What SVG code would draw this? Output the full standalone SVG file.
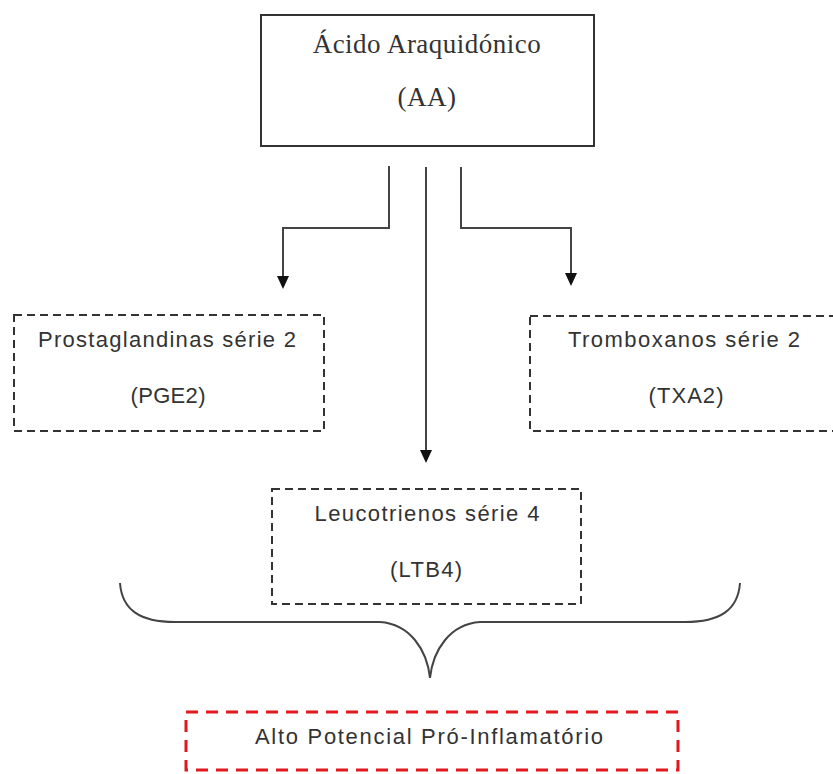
<svg xmlns="http://www.w3.org/2000/svg" width="833" height="774" viewBox="0 0 833 774">
<style>
.bg{fill:#fff}
.solid{fill:#fff;stroke:#333;stroke-width:2}
.dash{fill:#fff;stroke:#333;stroke-width:2;stroke-dasharray:8 5}
.red{fill:#fff;stroke:#e0191e;stroke-width:3;stroke-dasharray:12 8}
.serif{font-family:"Liberation Serif",serif;font-size:27px;fill:#333;text-anchor:middle;letter-spacing:0.5px}
.sans{font-family:"Liberation Sans",Arial,sans-serif;font-size:22px;fill:#333;text-anchor:middle}
.conn{fill:none;stroke:#444;stroke-width:2}
.head{fill:#111}
</style>
<rect class="bg" width="833" height="774"/>
<g id="connectors">
<path class="conn" d="M389,166 V228 H283 V276"/>
<path class="head" d="M277,276 L289,276 L283,289 Z"/>
<path class="conn" d="M426,167 V450"/>
<path class="head" d="M420,450 L432,450 L426,463 Z"/>
<path class="conn" d="M461,167 V228 H571 V273"/>
<path class="head" d="M565,273 L577,273 L571,286 Z"/>
<path class="conn" d="M120,583 C122,610 140,622 175,622 L380,622 C410,624 427,650 430,678 C433,650 450,624 480,622 L685,622 C720,622 738,610 740,583"/>
</g>
<g id="aa">
<rect class="solid" x="261" y="15" width="333" height="131"/>
<text class="serif" x="427" y="53">Ácido Araquidónico</text>
<text class="serif" x="427" y="106">(AA)</text>
</g>
<g id="pge2">
<rect class="dash" x="14" y="315" width="310" height="116"/>
<text class="sans" x="167" y="347" textLength="258" lengthAdjust="spacing">Prostaglandinas série 2</text>
<text class="sans" x="168" y="403" textLength="75" lengthAdjust="spacing">(PGE2)</text>
</g>
<g id="txa2">
<rect class="dash" x="530" y="316" width="312" height="115"/>
<text class="sans" x="684" y="347" textLength="232" lengthAdjust="spacing">Tromboxanos série 2</text>
<text class="sans" x="686" y="403" textLength="75" lengthAdjust="spacing">(TXA2)</text>
</g>
<g id="ltb4">
<rect class="dash" x="272" y="489" width="309" height="115"/>
<text class="sans" x="427" y="521" textLength="225" lengthAdjust="spacing">Leucotrienos série 4</text>
<text class="sans" x="426" y="577" textLength="72" lengthAdjust="spacing">(LTB4)</text>
</g>
<g id="result">
<rect class="red" x="186" y="712" width="492" height="58"/>
<text class="sans" x="429" y="744" textLength="348" lengthAdjust="spacing">Alto Potencial Pró-Inflamatório</text>
</g>
</svg>
